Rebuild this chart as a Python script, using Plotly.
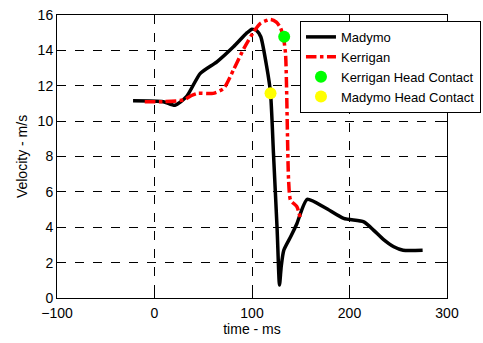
import plotly.graph_objects as go

madymo_t = [-22, 9, 21, 33, 47, 64, 81, 95, 100, 105, 109, 115, 119, 122, 125.8, 128.2, 130, 132.6, 140, 146, 156.6, 175, 194, 214.7, 224.6, 235, 245.4, 255, 275]
madymo_v = [11.15, 11.1, 10.9, 11.4, 12.7, 13.35, 14.2, 15.0, 15.2, 15.1, 14.77, 13.1, 11.6, 8.2, 3.84, 0.73, 1.8, 2.7, 3.5, 4.2, 5.58, 5.1, 4.5, 4.3, 3.84, 3.3, 2.9, 2.7, 2.7]

kerrigan_t = [-10, 10, 30, 38, 44, 60, 71, 81, 91.6, 101.7, 108.7, 119, 125, 129, 132, 134.4, 137.5, 139.5, 146, 149.7]
kerrigan_v = [11.1, 11.1, 11.2, 11.45, 11.57, 11.57, 11.85, 12.9, 14.1, 15.05, 15.53, 15.75, 15.6, 15.3, 14.8, 13.8, 6.7, 5.54, 5.16, 4.5]

kerrigan_contact_t = [133]
kerrigan_contact_v = [14.77]
madymo_contact_t = [119]
madymo_contact_v = [11.57]

x_ticks = [-100, 0, 100, 200, 300]
y_ticks = [0, 2, 4, 6, 8, 10, 12, 14, 16]

fig = go.Figure()
fig.add_trace(go.Scatter(x=madymo_t, y=madymo_v, mode="lines", name="Madymo",
                         line=dict(color="black", width=3.5, shape="spline", smoothing=0.6)))
fig.add_trace(go.Scatter(x=kerrigan_t, y=kerrigan_v, mode="lines", name="Kerrigan",
                         line=dict(color="red", width=3.5, dash="dashdot", shape="spline", smoothing=0.6)))
fig.add_trace(go.Scatter(x=kerrigan_contact_t, y=kerrigan_contact_v, mode="markers",
                         name="Kerrigan Head Contact",
                         marker=dict(color="#00ff00", size=12, line=dict(width=0))))
fig.add_trace(go.Scatter(x=madymo_contact_t, y=madymo_contact_v, mode="markers",
                         name="Madymo Head Contact",
                         marker=dict(color="#ffff00", size=12, line=dict(width=0))))

axis_common = dict(showline=True, linecolor="black", linewidth=1, mirror="ticks",
                   ticks="inside", ticklen=5, tickcolor="black",
                   showgrid=True, gridcolor="black", griddash="dash", gridwidth=0.7,
                   zeroline=False, tickfont=dict(family="Arial", size=14, color="black"))

fig.update_xaxes(range=[-100, 300], tickvals=x_ticks, ticklabelstandoff=2,
                 title=dict(text="time - ms", font=dict(family="Arial", size=14, color="black"), standoff=0),
                 **axis_common)
fig.update_yaxes(range=[0, 16], tickvals=y_ticks,
                 title=dict(text="Velocity - m/s", font=dict(family="Arial", size=14, color="black"), standoff=6),
                 **axis_common)

fig.update_layout(
    width=483, height=343,
    margin=dict(l=57, r=36, t=15, b=45, autoexpand=False),
    plot_bgcolor="white", paper_bgcolor="white",
    font=dict(family="Arial", size=13, color="black"),
    legend=dict(x=0.623, y=0.979, xanchor="left", yanchor="top",
                bgcolor="white", bordercolor="black", borderwidth=1,
                font=dict(family="Arial", size=13, color="black"),
                tracegroupgap=0, itemwidth=30),
    showlegend=True,
)

fig.write_html("out.html")
